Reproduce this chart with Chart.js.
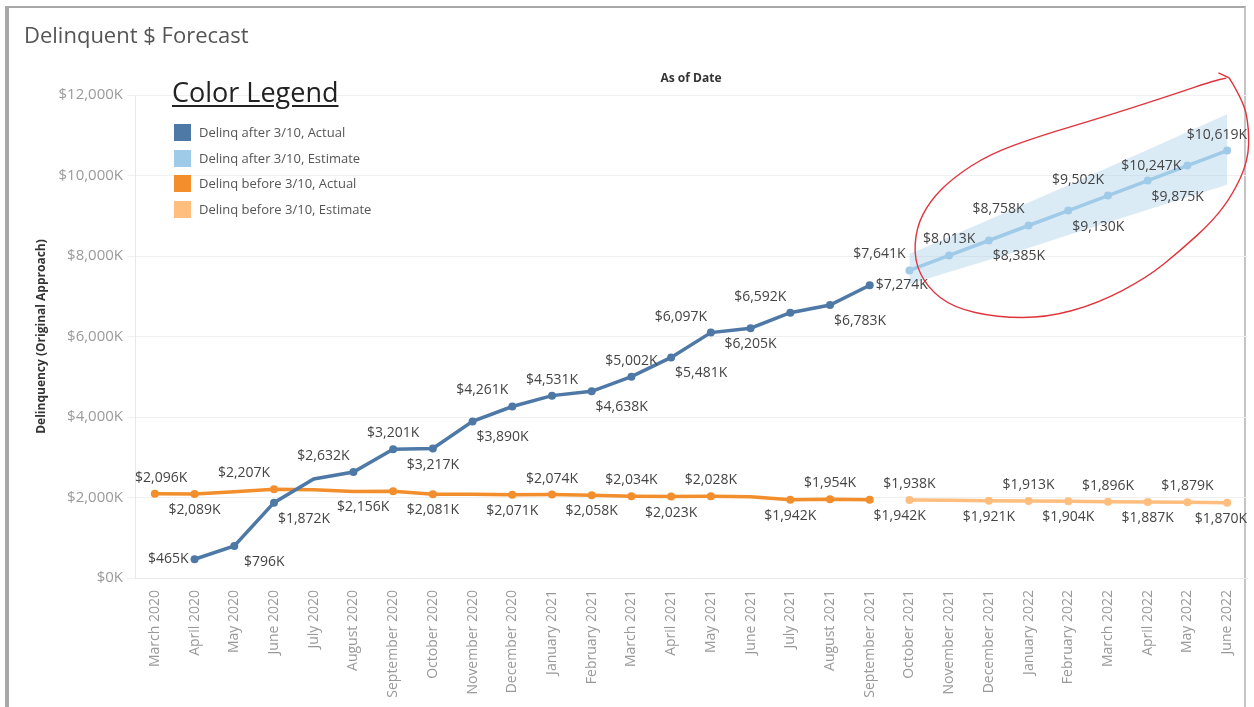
<!DOCTYPE html>
<html><head><meta charset="utf-8">
<script src="https://cdn.jsdelivr.net/npm/chart.js@4.4.1/dist/chart.umd.min.js"></script>
<style>
html,body{margin:0;padding:0;background:#fff;width:1254px;height:707px;overflow:hidden;font-family:"Open Sans",sans-serif;}
#frame{position:absolute;left:5px;top:6px;width:1241px;height:720px;border-top:2px solid #a8a8a8;border-left:4px solid #a8a8a8;border-right:2px solid #c4c4c4;box-sizing:border-box;}
#title{position:absolute;left:24px;top:19px;font-size:22px;color:#555;white-space:nowrap;}
#asof{position:absolute;left:631px;top:69px;width:120px;text-align:center;font-size:12px;font-weight:bold;color:#333;}
#legend{position:absolute;left:172px;top:74px;}
#lt{font-size:27px;color:#222;text-decoration:underline;text-decoration-thickness:2px;text-underline-offset:3px;line-height:36px;margin-bottom:10px;white-space:nowrap;}
.li{height:25.7px;line-height:25.7px;font-size:13px;color:#555;white-space:nowrap;position:relative;padding-left:27px;}
.sw{position:absolute;left:2px;top:4px;width:17px;height:17px;}
canvas{position:absolute;left:0;top:0;}
</style></head>
<body>
<div id="frame"></div>
<canvas id="c" width="1254" height="707"></canvas>
<div id="title">Delinquent $ Forecast</div>
<div id="asof">As of Date</div>
<div id="legend">
  <div id="lt">Color Legend</div>
  <div class="li"><span class="sw" style="background:#4e79a7"></span>Delinq after 3/10, Actual</div>
  <div class="li"><span class="sw" style="background:#a0cbe8"></span>Delinq after 3/10, Estimate</div>
  <div class="li"><span class="sw" style="background:#f28e2b"></span>Delinq before 3/10, Actual</div>
  <div class="li"><span class="sw" style="background:#ffbe7d"></span>Delinq before 3/10, Estimate</div>
</div>
<script>
// ---- data ----
const months = ["March 2020","April 2020","May 2020","June 2020","July 2020","August 2020","September 2020","October 2020","November 2020","December 2020","January 2021","February 2021","March 2021","April 2021","May 2021","June 2021","July 2021","August 2021","September 2021","October 2021","November 2021","December 2021","January 2022","February 2022","March 2022","April 2022","May 2022","June 2022"];
const afterActual = [null,465,796,1872,2460,2632,3201,3217,3890,4261,4531,4638,5002,5481,6097,6205,6592,6783,7274,null,null,null,null,null,null,null,null,null];
const afterEstimate = [null,null,null,null,null,null,null,null,null,null,null,null,null,null,null,null,null,null,null,7641,8013,8385,8758,9130,9502,9875,10247,10619];
const afterBandLow = [null,null,null,null,null,null,null,null,null,null,null,null,null,null,null,null,null,null,null,7300,7600,7900,8200,8520,8830,9150,9460,9770];
const afterBandHigh = [null,null,null,null,null,null,null,null,null,null,null,null,null,null,null,null,null,null,null,8050,8470,8900,9330,9760,10200,10640,11080,11520];
const beforeActual = [2096,2089,2140,2207,2190,2150,2156,2081,2078,2071,2074,2058,2034,2023,2028,2020,1942,1954,1942,null,null,null,null,null,null,null,null,null];
const beforeEstimate = [null,null,null,null,null,null,null,null,null,null,null,null,null,null,null,null,null,null,null,1938,1930,1921,1913,1904,1896,1887,1879,1870];
const yTicks = [0,2000,4000,6000,8000,10000,12000];

// ---- label placement (style) ----
const planAfterActual = ['','l','br','br','','al','a','b','br','al','a','br','a','br','al','b','al','br','r','','','','','','','','',''];
const planAfterEst = ['','','','','','','','','','','','','','','','','','','','al','a','br','al','br','al','br','l','a'];
const planBeforeActual = ['a','b','','al','','','bl','b','','b','a','b','a','b','a','','b','a','br','','','','','','','','',''];
const planBeforeEst = ['','','','','','','','','','','','','','','','','','','','a','','b','a','b','a','b','a','b'];

// annotation loop in (category index, value) space
const loopPath = [[26.78,12549],[27.05,12425],[27.41,11854],[27.55,11185],[27.53,10366],[27.15,9548],[26.65,8878],[25.82,8134],[24.99,7465],[23.73,6820],[22.47,6473],[21.21,6473],[20.10,6721],[19.45,7217],[19.12,7886],[19.17,8705],[19.52,9374],[20.10,9945],[21.03,10540],[22.29,10986],[23.73,11408],[25.39,11929],[26.65,12350],[26.98,12420]];

const fmt = v => '$' + v.toLocaleString('en-US') + 'K';
const radiusFrom = plan => c => (plan[c.dataIndex] ? 4 : 0);

const labelPlugin = {
  id: 'pointLabels',
  afterDatasetsDraw(chart) {
    const ctx = chart.ctx, area = chart.chartArea;
    ctx.save();
    ctx.font = '14px "Open Sans"';
    ctx.fillStyle = '#444';
    ctx.textBaseline = 'middle';
    ctx.textAlign = 'center';
    chart.data.datasets.forEach((ds, di) => {
      if (!ds.labelPlan) return;
      const meta = chart.getDatasetMeta(di);
      meta.data.forEach((pt, i) => {
        const code = ds.labelPlan[i], v = ds.data[i];
        if (!code || v == null) return;
        const txt = fmt(v);
        const w = ctx.measureText(txt).width;
        let cx = pt.x, cy = pt.y;
        const H = 30, V = 16;
        if (code[0] === 'a') cy -= V;
        if (code[0] === 'b') cy += V;
        if (code === 'al' || code === 'bl') cx -= H;
        if (code === 'ar' || code === 'br') cx += H;
        if (code === 'l') cx = pt.x - 6 - w / 2;
        if (code === 'r') cx = pt.x + 6 + w / 2;
        cx = Math.max(area.left + w / 2, Math.min(area.right - w / 2, cx));
        ctx.fillText(txt, cx, cy);
      });
    });
    ctx.restore();
  }
};

const loopPlugin = {
  id: 'loop',
  afterDraw(chart) {
    const x = chart.scales.x, y = chart.scales.y, ctx = chart.ctx;
    const p = loopPath.map(([i, v]) => [x.getPixelForValue(i), y.getPixelForValue(v)]);
    ctx.save();
    ctx.strokeStyle = '#e0343c';
    ctx.lineWidth = 1.4;
    ctx.beginPath();
    ctx.moveTo(p[0][0], p[0][1]);
    ctx.lineTo(p[1][0], p[1][1]);
    for (let k = 2; k < p.length - 1; k++) {
      const mx = (p[k][0] + p[k + 1][0]) / 2, my = (p[k][1] + p[k + 1][1]) / 2;
      ctx.quadraticCurveTo(p[k][0], p[k][1], mx, my);
    }
    ctx.lineTo(p[p.length - 1][0], p[p.length - 1][1]);
    ctx.stroke();
    ctx.restore();
  }
};

new Chart(document.getElementById('c'), {
  type: 'line',
  data: {
    labels: months,
    datasets: [
      { label: 'band low', data: afterBandLow, borderWidth: 0, pointRadius: 0, fill: false, order: 10, borderColor: 'rgba(0,0,0,0)' },
      { label: 'band high', data: afterBandHigh, borderWidth: 0, pointRadius: 0, fill: '-1', backgroundColor: 'rgba(160,203,232,0.38)', borderColor: 'rgba(0,0,0,0)', order: 9 },
      { label: 'Delinq before 3/10, Actual', data: beforeActual, borderColor: '#f28e2b', backgroundColor: '#f28e2b', borderWidth: 3.5, pointRadius: radiusFrom(planBeforeActual), pointBorderWidth: 0, labelPlan: planBeforeActual, order: 2 },
      { label: 'Delinq before 3/10, Estimate', data: beforeEstimate, borderColor: '#ffbe7d', backgroundColor: '#ffbe7d', borderWidth: 3.5, pointRadius: radiusFrom(planBeforeEst), pointBorderWidth: 0, labelPlan: planBeforeEst, order: 2 },
      { label: 'Delinq after 3/10, Actual', data: afterActual, borderColor: '#4e79a7', backgroundColor: '#4e79a7', borderWidth: 3.5, pointRadius: radiusFrom(planAfterActual), pointBorderWidth: 0, labelPlan: planAfterActual, order: 1 },
      { label: 'Delinq after 3/10, Estimate', data: afterEstimate, borderColor: '#a0cbe8', backgroundColor: '#a0cbe8', borderWidth: 3.5, pointRadius: radiusFrom(planAfterEst), pointBorderWidth: 0, labelPlan: planAfterEst, order: 1 }
    ]
  },
  options: {
    responsive: false,
    animation: false,
    spanGaps: false,
    layout: { padding: { left: 30, top: 95, right: 7, bottom: 0 } },
    plugins: { legend: { display: false }, tooltip: { enabled: false } },
    scales: {
      x: {
        offset: true,
        grid: { display: false },
        border: { color: '#e8e8e8' },
        ticks: { autoSkip: false, maxRotation: 90, minRotation: 90, color: '#999', font: { family: 'Open Sans', size: 14 }, padding: 4 },
        afterFit: s => { s.height = 129; }
      },
      y: {
        min: 0, max: 12000,
        afterBuildTicks: s => { s.ticks = yTicks.map(v => ({ value: v })); },
        grid: { color: '#f0f0f0' },
        border: { color: '#e8e8e8' },
        ticks: { color: '#9a9a9a', font: { family: 'Open Sans', size: 15 }, padding: 4, callback: v => fmt(v) },
        title: { display: true, text: 'Delinquency (Original Approach)', color: '#333', font: { family: 'Open Sans', size: 12, weight: 'bold' }, padding: 4 },
        afterFit: s => { s.width = 105; }
      }
    }
  },
  plugins: [labelPlugin, loopPlugin]
});
</script>
</body></html>
